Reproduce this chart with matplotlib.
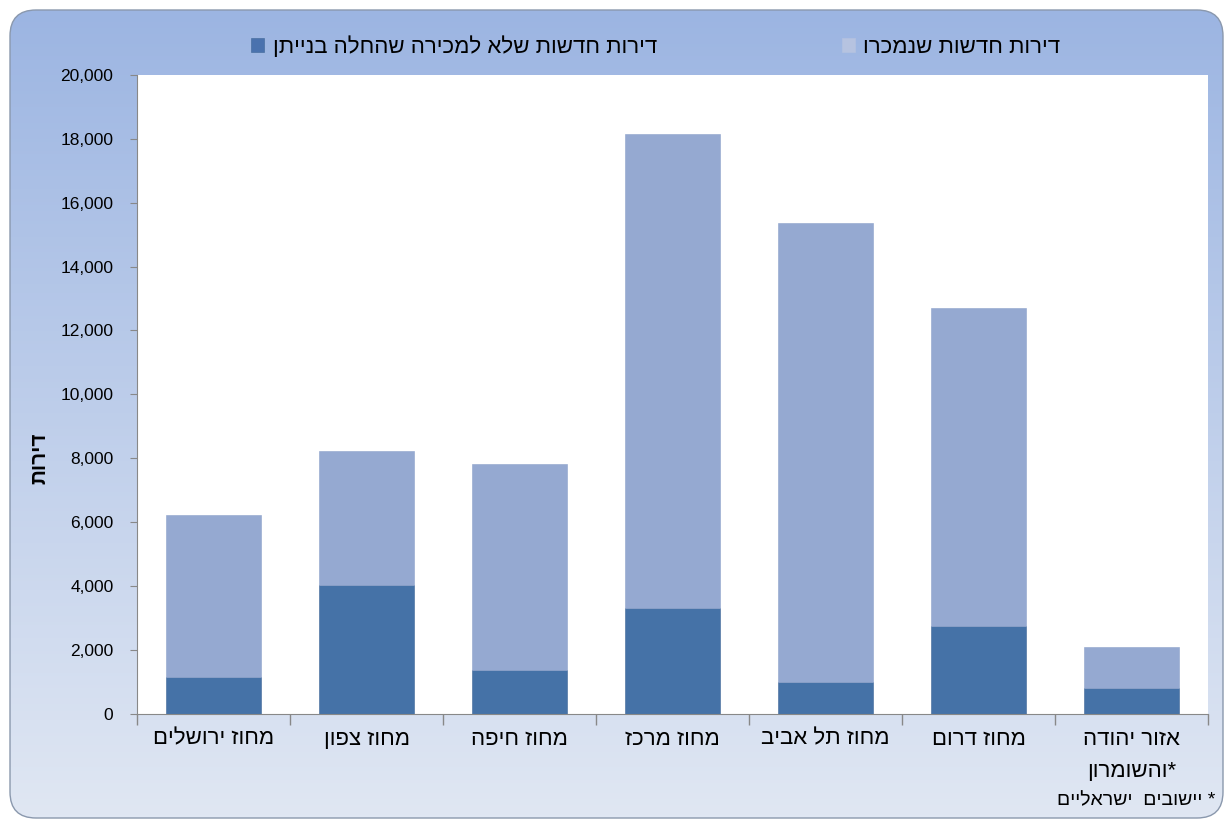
import matplotlib

matplotlib.use("Agg")

import matplotlib.pyplot as plt
import numpy as np
from matplotlib.colors import to_rgb
from matplotlib.patches import FancyBboxPatch
from matplotlib.ticker import FuncFormatter, MultipleLocator

plt.rcParams["font.family"] = ["Liberation Sans", "DejaVu Sans"]

# districts, in display order (left to right)
districts = [
    "מחוז ירושלים",
    "מחוז צפון",
    "מחוז חיפה",
    "מחוז מרכז",
    "מחוז תל אביב",
    "מחוז דרום",
    "אזור יהודה\n*והשומרון",
]
# new apartments not for sale whose construction started
not_for_sale = [1130, 4020, 1350, 3290, 1000, 2730, 790]
# new apartments sold
sold = [5080, 4210, 6460, 14850, 14350, 9960, 1290]

series_labels = ["דירות חדשות שלא למכירה שהחלה בנייתן", "דירות חדשות שנמכרו"]
y_label = "דירות"
footnote = "* יישובים  ישראליים"

DARK = "#4572a7"
LIGHT = "#95a9d1"


def rtl(text):
    """matplotlib lays glyphs out left to right, so flip each line of Hebrew."""
    return "\n".join(line[::-1] for line in text.split("\n"))


W, H = 1227, 822
fig = plt.figure(figsize=(W / 100, H / 100), dpi=100)

# rounded panel with a vertical blue gradient behind the chart
bg = fig.add_axes([0, 0, 1, 1], zorder=-1)
bg.set_xlim(0, W)
bg.set_ylim(H, 0)
bg.set_axis_off()
top_c, bot_c = np.array(to_rgb("#9cb5e2")), np.array(to_rgb("#e0e7f3"))
t = np.linspace(0, 1, 256)[:, None, None]
grad = top_c * (1 - t) + bot_c * t
panel = FancyBboxPatch((10, 10), 1213, 808, boxstyle="round,pad=0,rounding_size=26",
                       facecolor="none", edgecolor="#8a98ad", linewidth=1.0)
bg.add_patch(panel)
img = bg.imshow(grad, extent=(10, 1223, 818, 10), origin="upper", aspect="auto")
img.set_clip_path(panel)

ax = fig.add_axes([137 / W, 1 - 713.5 / H, (1208 - 137) / W, (713.5 - 75) / H])
ax.set_facecolor("white")

x = np.arange(len(districts))
width = 0.62
b_dark = ax.bar(x, not_for_sale, width, color=DARK, edgecolor="#3f6798", linewidth=0.4)
b_light = ax.bar(x, sold, width, bottom=not_for_sale, color=LIGHT, edgecolor="#8fa3cb", linewidth=0.4)

ax.set_xlim(-0.5, len(districts) - 0.5)
ax.set_ylim(0, 20000)
ax.yaxis.set_major_locator(MultipleLocator(2000))
ax.yaxis.set_major_formatter(FuncFormatter(lambda v, _: f"{int(v):,}"))

ax.set_xticks(x)
ax.set_xticklabels([rtl(d) for d in districts], fontsize=16, color="black", linespacing=1.7)
ax.set_xticks(np.arange(-0.5, len(districts)), minor=True)
ax.tick_params(axis="x", which="major", length=0, pad=11)
ax.tick_params(axis="x", which="minor", length=8, color="#888888", width=1)
ax.tick_params(axis="y", length=5, color="#888888", labelsize=12.5, pad=12)

for side in ("top", "right"):
    ax.spines[side].set_visible(False)
for side in ("left", "bottom"):
    ax.spines[side].set_color("#888888")

fig.text(40 / W, 1 - 458 / H, rtl(y_label), rotation=90, fontsize=15, fontweight="bold",
         ha="center", va="center")

leg = fig.legend([b_dark, b_light], [rtl(s) for s in series_labels], ncol=2,
                 loc="center", bbox_to_anchor=(656 / W, 1 - 47 / H), frameon=False,
                 fontsize=16, handlelength=0.55, handleheight=0.55, handletextpad=0.4,
                 columnspacing=8.35)
leg.legend_handles[0].set_facecolor("#4a72ae")
leg.legend_handles[1].set_facecolor("#b6c3e0")
leg.legend_handles[1].set_edgecolor("#b6c3e0")

fig.text(1215 / W, 1 - 801 / H, rtl(footnote), fontsize=14, ha="right", va="center")

fig.savefig("out.png", dpi=100, facecolor="white")
